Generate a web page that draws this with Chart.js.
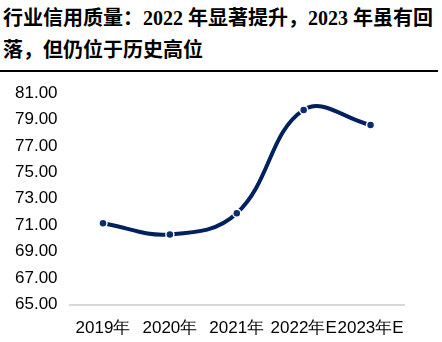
<!DOCTYPE html>
<html lang="zh">
  <head>
    <meta charset="UTF-8" />
    <title>行业信用质量</title>
    <style>
      body { margin: 0; width: 442px; height: 342px; background: #fff; position: relative; overflow: hidden; }
      .title {
        position: absolute; left: 3px; top: 2px; width: 436px;
        font-family: "Liberation Serif", "Noto Sans CJK SC", serif;
        font-weight: bold; font-size: 20px; line-height: 32px; color: #000;
      }
      .rule { position: absolute; left: 0; top: 70px; width: 438px; height: 2px; background: #000; }
      .chartBox { position: absolute; left: 0; top: 72px; width: 442px; height: 285px; }
    </style>
  </head>
  <body>
    <div class="title">行业信用质量：2022 年显著提升，2023 年虽有回<br>落，但仍位于历史高位</div>
    <div class="rule"></div>
    <div class="chartBox">
      <canvas id="myChart"></canvas>
    </div>
    <script src="https://cdn.jsdelivr.net/npm/chart.js/dist/chart.umd.min.js"></script>
    <script>
      // data
      const years = ['2019年', '2020年', '2021年', '2022年E', '2023年E'];
      const quality = [71.15, 70.31, 71.91, 79.72, 78.58];
      const yMin = 65;
      const yMax = 81;
      const yStep = 2;

      const navy = '#002060';

      const config = {
        type: 'line',
        data: {
          labels: years,
          datasets: [{
            label: '行业信用质量',
            data: quality,
            borderColor: navy,
            borderWidth: 4,
            tension: 0.4,
            pointRadius: 4,
            pointBackgroundColor: '#0b2d6e',
            pointBorderColor: '#fff',
            pointBorderWidth: 1.5
          }]
        },
        options: {
          responsive: true,
          maintainAspectRatio: false,
          animation: false,
          layout: { padding: { left: 15, right: 38, top: 21, bottom: 4 } },
          plugins: { legend: { display: false }, tooltip: { enabled: false } },
          scales: {
            x: {
              offset: true,
              grid: { display: false, drawTicks: false },
              border: { display: true, color: '#d9d9d9', width: 2 },
              ticks: {
                color: '#000',
                padding: 14,
                maxRotation: 0,
                autoSkip: false,
                font: { family: 'Liberation Sans', size: 17 }
              }
            },
            y: {
              min: yMin,
              max: yMax,
              grid: { display: false, drawTicks: false },
              border: { display: false },
              ticks: {
                stepSize: yStep,
                color: '#000',
                crossAlign: 'far',
                padding: 6,
                font: { family: 'Liberation Sans', size: 17 },
                callback: v => v.toFixed(2)
              }
            }
          }
        }
      };

      const myChart = new Chart(document.getElementById('myChart'), config);
    </script>
  </body>
</html>
